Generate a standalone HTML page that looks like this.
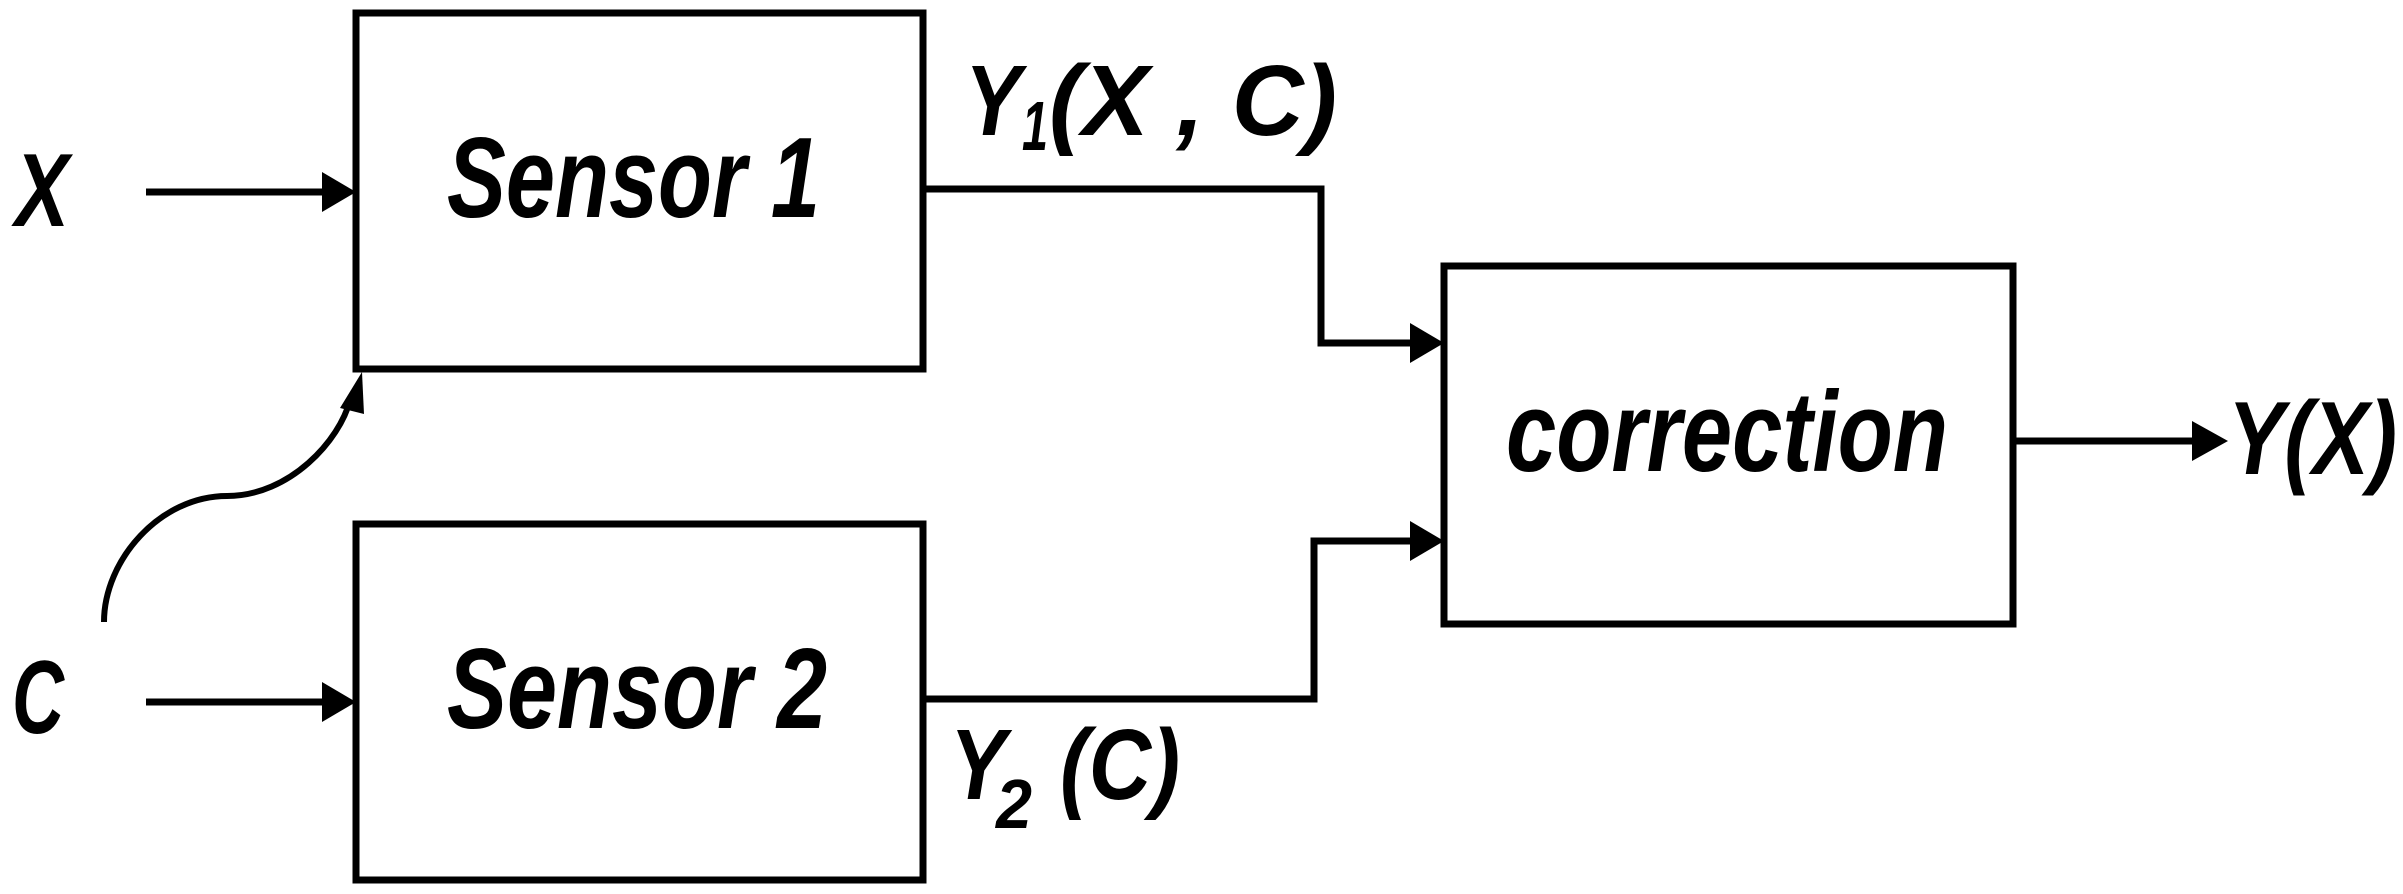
<!DOCTYPE html>
<html><head><meta charset="utf-8"><style>html,body{margin:0;padding:0;background:#fff}svg{display:block}</style></head>
<body>
<svg width="2403" height="894" viewBox="0 0 2403 894" xmlns="http://www.w3.org/2000/svg">
<g fill="none" stroke="#000" stroke-width="7">
<rect x="356" y="13" width="567" height="356"/>
<rect x="356" y="524" width="567" height="356"/>
<rect x="1444" y="266" width="569" height="358"/>
<polyline points="146,192 326,192"/>
<polyline points="146,702 326,702"/>
<polyline points="923,189 1321,189 1321,343 1414,343"/>
<polyline points="923,699 1314,699 1314,541 1414,541"/>
<polyline points="2013,441 2196,441"/>
<path d="M104,622 C104,560 160,496 227,496 C290,496 340,440 350,400" stroke-width="6"/>
</g>
<g fill="#000">
<polygon points="322,172 356,192 322,212"/>
<polygon points="322,682 356,702 322,722"/>
<polygon points="1410,323 1444,343 1410,363"/>
<polygon points="1410,521 1444,541 1410,561"/>
<polygon points="2192,421 2228,441 2192,461"/>
<polygon points="340,408 362,372 364,414"/>
</g>
<g font-family="Liberation Sans, sans-serif" font-weight="bold" font-style="italic" fill="#000">
<text x="15" y="226" font-size="104" textLength="54" lengthAdjust="spacingAndGlyphs">X</text>
<text x="12" y="733" font-size="104" textLength="52" lengthAdjust="spacingAndGlyphs">C</text>
<text x="447" y="217" font-size="114" textLength="373" lengthAdjust="spacingAndGlyphs">Sensor 1</text>
<text x="447" y="728" font-size="114" textLength="380" lengthAdjust="spacingAndGlyphs">Sensor 2</text>
<text x="1506" y="471" font-size="114" textLength="442" lengthAdjust="spacingAndGlyphs">correction</text>
<text x="2228" y="474" font-size="104" textLength="169" lengthAdjust="spacingAndGlyphs">Y(X)</text>
<text x="965" y="135" font-size="100" textLength="56" lengthAdjust="spacingAndGlyphs">Y</text>
<text x="1022" y="150" font-size="70" textLength="26" lengthAdjust="spacingAndGlyphs">1</text>
<text x="1049" y="135" font-size="100" textLength="288" lengthAdjust="spacingAndGlyphs">(X ,  C)</text>
<text x="950" y="799" font-size="100" textLength="56" lengthAdjust="spacingAndGlyphs">Y</text>
<text x="996" y="828" font-size="70" textLength="36" lengthAdjust="spacingAndGlyphs">2</text>
<text x="1060" y="799" font-size="100" textLength="120" lengthAdjust="spacingAndGlyphs">(C)</text>
</g>
</svg>
</body></html>
